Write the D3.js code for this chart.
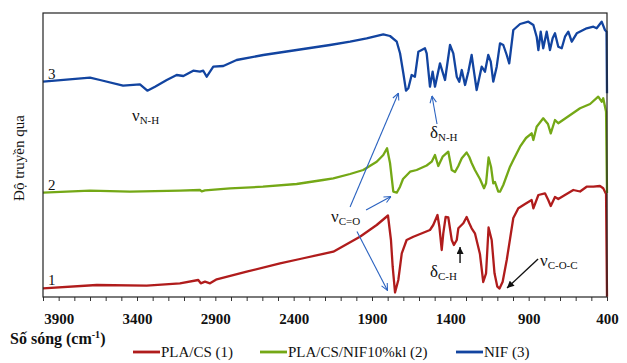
<!DOCTYPE html>
<html>
<head>
<meta charset="utf-8">
<script src="https://cdn.jsdelivr.net/npm/d3@7"></script>
<style>
  body { margin: 0; background: #fff; }
  svg { display: block; font-family: "Liberation Serif", "Times New Roman", serif; }
</style>
</head>
<body>
<svg id="chart" width="627" height="363"></svg>
<script>
// FTIR spectra: [wavenumber cm-1, transmittance (arb. units)]
const plaCs = [
  [4000, 8.7], [3657, 12], [3338, 11.3], [3126, 13.7], [3009, 17], [2993, 13.7], [2966, 15.3],
  [2934, 13.7], [2891, 17.7], [2700, 25.3], [2487, 33.7], [2360, 38], [2147, 45.3], [1977, 60.3],
  [1870, 72], [1798, 81.5], [1779, 57], [1768, 30.3], [1753, 4.5], [1732, 17], [1710, 43.7],
  [1679, 57], [1636, 60.3], [1573, 64.3], [1530, 67], [1509, 72], [1482, 82], [1470, 70.3],
  [1455, 47], [1445, 63.7], [1430, 80], [1413, 79.5], [1391, 57], [1377, 52], [1359, 57],
  [1349, 68.7], [1317, 73.7], [1296, 80], [1279, 73.7], [1264, 68.7], [1243, 63.7], [1211, 43],
  [1190, 15], [1172, 23.7], [1156, 69.5], [1136, 57], [1118, 23.7], [1100, 10.3], [1086, 8.5],
  [1066, 15.3], [1040, 37], [998, 79], [966, 88.7], [923, 93], [881, 97], [870, 88.7], [838, 102],
  [796, 103.7], [775, 97], [759, 91], [732, 100], [711, 98], [615, 107], [572, 105.5], [530, 110.3],
  [487, 110.3], [445, 111], [424, 108.7], [406, 103], [400, 0.3]
];
const plaCsNif = [
  [4000, 104.3], [3700, 106.3], [3445, 105.3], [3126, 106.3], [2998, 107], [2987, 105.7], [2966, 106.7],
  [2806, 108.7], [2596, 110.3], [2381, 113], [2213, 117], [2147, 118.7], [2040, 123], [1956, 127],
  [1870, 135.3], [1828, 142], [1804, 148.7], [1785, 134], [1764, 105.3], [1742, 104.3], [1721, 110.3],
  [1702, 118], [1657, 125.3], [1615, 127], [1551, 131.5], [1519, 135.3], [1498, 142], [1477, 131],
  [1449, 140.3], [1413, 145.3], [1391, 127], [1370, 125], [1349, 131], [1327, 138.7], [1296, 144.5],
  [1279, 140], [1264, 134], [1243, 127], [1211, 118], [1185, 108.7], [1172, 113.7], [1156, 139.5],
  [1140, 130], [1126, 113.7], [1115, 115], [1094, 105.3], [1083, 105.3], [1062, 112], [1019, 130.3],
  [998, 137], [955, 150.3], [917, 159], [881, 163.7], [870, 157], [849, 170.3], [807, 178.7],
  [777, 173], [759, 163.7], [732, 177], [711, 173.7], [572, 188.7], [508, 193], [456, 200.3],
  [434, 195.3], [424, 198.7], [406, 185.3], [400, 104]
];
const nif = [
  [4000, 215.3], [3700, 219.3], [3636, 217], [3489, 211.3], [3381, 212.7], [3334, 206.3], [3285, 210.3],
  [3210, 217], [3147, 222], [3104, 221], [3041, 226.3], [2998, 225.3], [2977, 226.3], [2955, 220.3],
  [2913, 230.3], [2849, 231], [2764, 237], [2594, 242], [2381, 247], [2168, 252], [2040, 255.3],
  [1934, 258.7], [1828, 262.7], [1785, 261], [1742, 255.3], [1721, 243.7], [1700, 223.7], [1683, 206.3],
  [1668, 208.7], [1647, 222], [1626, 220.3], [1604, 245.3], [1562, 248.7], [1551, 243.7], [1530, 210.3],
  [1513, 225.3], [1498, 210.3], [1466, 233.7], [1434, 217], [1402, 252], [1381, 243.7], [1359, 220.3],
  [1343, 215.3], [1327, 227], [1306, 212], [1285, 225.3], [1264, 242], [1249, 225.3], [1232, 207],
  [1200, 230.3], [1179, 225.3], [1158, 242], [1142, 235.3], [1126, 215.3], [1104, 230.3], [1083, 253.7],
  [1062, 252], [1040, 242], [1024, 233.7], [998, 267], [955, 273], [902, 275.3], [870, 272], [849, 260.3],
  [838, 247], [823, 265.3], [807, 248.7], [785, 265.3], [764, 247], [747, 258.7], [732, 263.7],
  [711, 250.3], [689, 248.7], [668, 260.3], [647, 265.3], [625, 255.3], [593, 263.7], [530, 268.7],
  [487, 270.3], [466, 268.7], [434, 275.3], [413, 267], [403, 265.3], [400, 203.7]
];

const seriesNames = ["PLA/CS (1)", "PLA/CS/NIF10%kl (2)", "NIF (3)"];
const seriesTags = ["1", "2", "3"];
const seriesColors = ["#b01c1c", "#74a816", "#1244a0"];
const seriesData = [plaCs, plaCsNif, nif];

const xTickValues = d3.range(4000, 399, -100);
const xTickLabels = [3900, 3400, 2900, 2400, 1900, 1400, 900, 400];

// peak labels: symbol, subscript, wavenumber, transmittance
const peakLabels = [
  ["ν", "N-H", 3432, 176],
  ["δ", "N-H", 1530, 159],
  ["ν", "C=O", 2162, 75],
  ["δ", "C-H", 1530, 20],
  ["ν", "C-O-C", 828, 31]
];
// arrows: [w1, t1, w2, t2, style]
const arrows = [
  [2040, 90, 1731, 204, "blue"],
  [1938, 87, 1779, 100.5, "blue"],
  [1996, 65.5, 1801, 6.5, "blue"],
  [1485, 173, 1517, 201, "blue"],
  [1338, 34, 1338, 50, "black"],
  [840, 38, 1038, 9, "black"]
];

const svg = d3.select("#chart");
const mLeft = 43, mRight = 607, mTop = 13, mBottom = 297;

const x = d3.scaleLinear().domain([4000, 400]).range([mLeft, mRight]);
const y = d3.scaleLinear().domain([0, 284]).range([mBottom, mTop]);

// markers
const defs = svg.append("defs");
defs.append("marker")
  .attr("id", "headBlue")
  .attr("viewBox", "0 0 10 10")
  .attr("refX", 9.5).attr("refY", 5)
  .attr("markerWidth", 8).attr("markerHeight", 8)
  .attr("markerUnits", "userSpaceOnUse")
  .attr("orient", "auto")
  .append("path")
  .attr("d", "M1,1 L9.5,5 L1,9")
  .attr("fill", "none")
  .attr("stroke", "#2a62c0")
  .attr("stroke-width", 1.3);
defs.append("marker")
  .attr("id", "headBlack")
  .attr("viewBox", "0 0 10 10")
  .attr("refX", 10).attr("refY", 5)
  .attr("markerWidth", 8).attr("markerHeight", 7)
  .attr("markerUnits", "userSpaceOnUse")
  .attr("orient", "auto")
  .append("path")
  .attr("d", "M0,0 L10,5 L0,10 z")
  .attr("fill", "#111");

// x axis
const xAxis = d3.axisBottom(x)
  .tickValues(xTickValues)
  .tickSize(4)
  .tickPadding(12)
  .tickFormat(d => xTickLabels.includes(d) ? d : "");

const gx = svg.append("g")
  .attr("transform", `translate(0,${mBottom})`)
  .call(xAxis);
gx.select(".domain").remove();
gx.selectAll(".tick line").attr("stroke", "#333");
gx.selectAll(".tick text")
  .attr("font-family", "Liberation Serif, serif")
  .attr("font-size", 15)
  .attr("font-weight", "bold")
  .attr("fill", "#111");

// spectra
const line = d3.line().x(d => x(d[0])).y(d => y(d[1]));

svg.append("g")
  .selectAll("path")
  .data(seriesData)
  .enter()
  .append("path")
  .attr("d", d => line(d))
  .attr("fill", "none")
  .attr("stroke", (d, i) => seriesColors[i])
  .attr("stroke-width", 2.3)
  .attr("stroke-linejoin", "round");

// frame
svg.append("rect")
  .attr("x", mLeft).attr("y", mTop)
  .attr("width", mRight - mLeft).attr("height", mBottom - mTop)
  .attr("fill", "none")
  .attr("stroke", "#222")
  .attr("stroke-width", 1.2);

// curve numbers
svg.append("g")
  .selectAll("text")
  .data(seriesData)
  .enter()
  .append("text")
  .attr("x", d => x(d[0][0]) + 5)
  .attr("y", d => y(d[0][1]) - 3)
  .attr("font-size", 15)
  .attr("fill", "#111")
  .text((d, i) => seriesTags[i]);

// arrows
svg.append("g")
  .selectAll("line")
  .data(arrows)
  .enter()
  .append("line")
  .attr("x1", d => x(d[0])).attr("y1", d => y(d[1]))
  .attr("x2", d => x(d[2])).attr("y2", d => y(d[3]))
  .attr("stroke", d => d[4] === "blue" ? "#2a62c0" : "#111")
  .attr("stroke-width", d => d[4] === "blue" ? 1.1 : 1.4)
  .attr("marker-end", d => d[4] === "blue" ? "url(#headBlue)" : "url(#headBlack)");

// peak labels
const pl = svg.append("g")
  .selectAll("text")
  .data(peakLabels)
  .enter()
  .append("text")
  .attr("x", d => x(d[2]))
  .attr("y", d => y(d[3]))
  .attr("fill", "#111");
pl.append("tspan").attr("font-size", 17).text(d => d[0]);
pl.append("tspan").attr("font-size", 11).attr("dy", 3).text(d => d[1]);

// y title
svg.append("text")
  .attr("transform", "translate(24,158) rotate(-90)")
  .attr("text-anchor", "middle")
  .attr("font-size", 15)
  .attr("fill", "#111")
  .text("Độ truyền qua");

// x title
const xt = svg.append("text")
  .attr("x", 10).attr("y", 344)
  .attr("font-size", 16)
  .attr("font-weight", "bold")
  .attr("fill", "#111");
xt.append("tspan").text("Số sóng (cm");
xt.append("tspan").attr("font-size", 10).attr("dy", -6).text("-1");
xt.append("tspan").attr("dy", 6).text(")");

// legend
const legendX = [133, 260, 456];
const lg = svg.append("g")
  .selectAll("g")
  .data(seriesNames)
  .enter()
  .append("g")
  .attr("transform", (d, i) => `translate(${legendX[i]},352)`);
lg.append("line")
  .attr("x1", 0).attr("x2", 27)
  .attr("stroke", (d, i) => seriesColors[i])
  .attr("stroke-width", 2.8);
lg.append("text")
  .attr("x", 28).attr("y", 5)
  .attr("font-size", 15)
  .attr("fill", "#111")
  .text(d => d);
</script>
</body>
</html>
